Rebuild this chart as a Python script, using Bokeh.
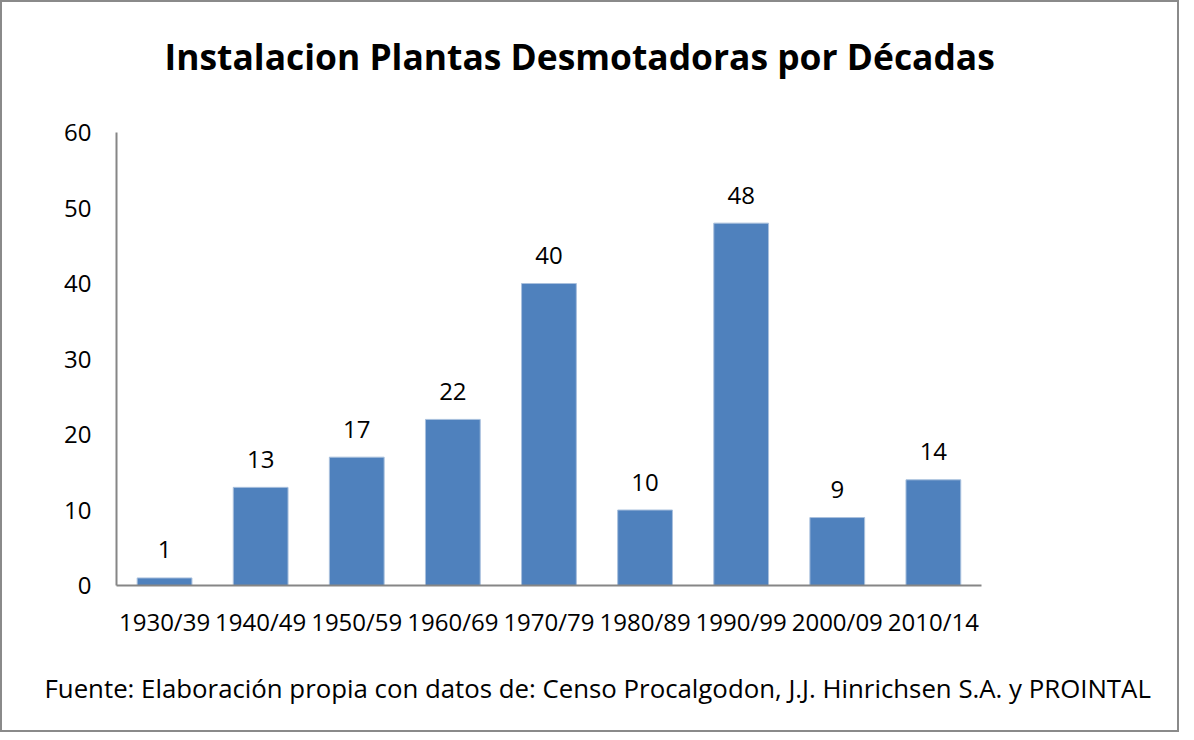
from bokeh.plotting import figure
from bokeh.models import ColumnDataSource, LabelSet, Label, Title, FixedTicker, Range1d
from bokeh.core.properties import value
from bokeh.embed import file_html
from bokeh.resources import INLINE

decades = ["1930/39", "1940/49", "1950/59", "1960/69", "1970/79", "1980/89", "1990/99", "2000/09", "2010/14"]
plants = [1, 13, 17, 22, 40, 10, 48, 9, 14]
labels = [str(v) for v in plants]
y_ticks = [0, 10, 20, 30, 40, 50, 60]

title_text = "Instalacion Plantas Desmotadoras por Décadas"
source_text = "Fuente: Elaboración propia con datos de: Censo Procalgodon, J.J. Hinrichsen S.A. y PROINTAL"

FONT = "Open Sans"
BAR = "#4F81BD"
AXIS = "#868686"

# category slots: the i-th decade sits in the middle of slot [i, i+1]
xpos = [i + 0.5 for i in range(len(decades))]
src = ColumnDataSource(dict(x=xpos, y=plants, t=labels))

# the frame reaches up into the title area; the axes stop at the data extent
W, H = 1179, 732
p = figure(x_range=Range1d(0, 9.313), y_range=Range1d(0, 75.9),
           width=W, height=H, output_backend="svg", toolbar_location=None,
           min_border_left=114, min_border_right=170, min_border_top=10, min_border_bottom=149)
p.styles = {"border": "2px solid #8a8a8a", "box-sizing": "border-box"}
p.outline_line_color = None
p.grid.grid_line_color = None
p.background_fill_color = "white"
p.border_fill_color = "white"
p.title.text = ""

p.vbar(x="x", top="y", width=0.57, source=src, fill_color=BAR, line_color="#a9c0dd", line_width=1)

p.add_layout(LabelSet(x="x", y="y", text="t", source=src, y_offset=28,
                      text_align="center", text_baseline="middle",
                      text_font=value(FONT), text_font_size="24px", text_color="black"))

p.add_layout(Label(x=0.5, y=70.1, text=title_text, text_align="left", text_baseline="middle",
                   text_font=FONT, text_font_style="bold", text_font_size="35.4px",
                   text_color="black"))

p.yaxis.ticker = FixedTicker(ticks=y_ticks)
p.yaxis.bounds = (0, 60)
p.xaxis.ticker = FixedTicker(ticks=xpos)
p.xaxis.major_label_overrides = {x: d for x, d in zip(xpos, decades)}
p.xaxis.bounds = (0, len(decades))
for ax in (p.xaxis[0], p.yaxis[0]):
    ax.axis_line_color = AXIS
    ax.axis_line_width = 2
    ax.major_tick_line_color = None
    ax.minor_tick_line_color = None
    ax.major_tick_out = 0
    ax.major_tick_in = 0
    ax.minor_tick_out = 0
    ax.major_label_text_font = FONT
    ax.major_label_text_font_size = "24px"
    ax.major_label_text_color = "black"
p.yaxis.major_label_standoff = 25
p.xaxis.major_label_standoff = 19

p.add_layout(Title(text=source_text, align="left", offset=-72, standoff=55,
                   text_font=FONT, text_font_style="normal", text_font_size="25.8px",
                   text_color="black"), "below")

open("out.html", "w").write(file_html(p, INLINE))
